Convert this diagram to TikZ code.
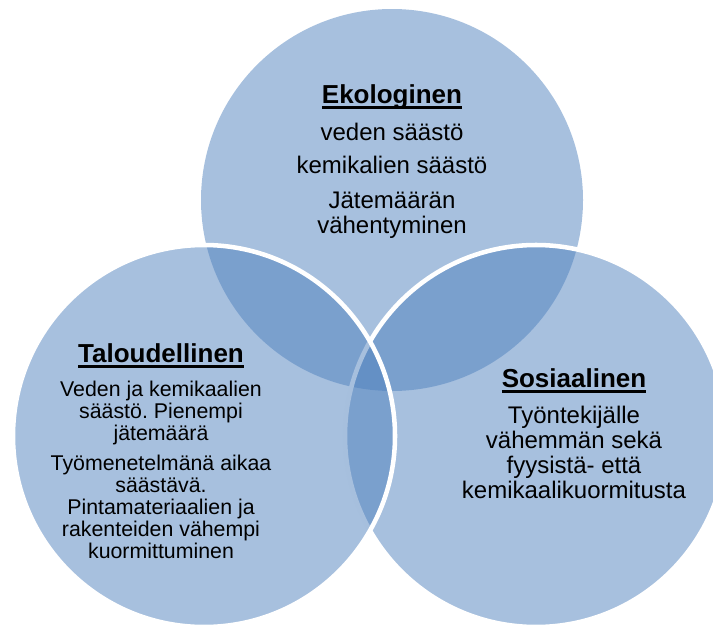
\documentclass[tikz,border=0pt]{standalone}
\usepackage{fontspec}
\setmainfont{Liberation Sans}
\frenchspacing
\newcommand{\thickul}[1]{\setbox0\hbox{#1}\rlap{\rule[-4.3pt]{\wd0}{1.8pt}}\box0}
\definecolor{vennblue}{HTML}{4F81BD}

\begin{document}
\begin{tikzpicture}[x=0.75pt,y=-0.75pt,
    set circle/.style={circle,minimum size=286.5pt,inner sep=0pt,
                       fill=vennblue,fill opacity=0.5},
    rim/.style={draw=white,line width=3.4pt},
    head/.style={anchor=base,font=\fontsize{19.5}{20}\selectfont\bfseries},
    body/.style={anchor=base,align=center,font=\fontsize{18}{18.75}\selectfont},
    small body/.style={body,font=\fontsize{16}{16.5}\selectfont}]
    \useasboundingbox (0,0) rectangle (713,628);
    \clip (0,0) rectangle (713,628);

    % the three sets
    \node[set circle] (eko circ) at (392,200) {};
    \node[set circle,rim] (sos circ) at (536,436) {};
    \node[set circle,rim] (tal circ) at (204,436) {};

    % top (multi-line nodes sit on their last baseline)
    \node[head] (eko) at (392,103) {\thickul{Ekologinen}};
    \node[body] (eko1) at (392,140) {veden säästö};
    \node[body] (eko2) at (392,173) {kemikalien säästö};
    \node[body] (eko3) at (392,233) {Jätemäärän\\vähentyminen};

    % left
    \node[head] (tal) at (161,362) {\thickul{Taloudellinen}};
    \node[small body] (tal1) at (161,440) {Veden ja kemikaalien\\säästö. Pienempi\\jätemäärä};
    \node[small body] (tal2) at (161,558) {Työmenetelmänä aikaa\\säästävä.\\Pintamateriaalien ja\\rakenteiden vähempi\\kuormittuminen};

    % right
    \node[head] (sos) at (574,387) {\thickul{Sosiaalinen}};
    \node[body] (sos1) at (574,498) {Työntekijälle\\vähemmän sekä\\fyysistä- että\\kemikaalikuormitusta};
\end{tikzpicture}
\end{document}
